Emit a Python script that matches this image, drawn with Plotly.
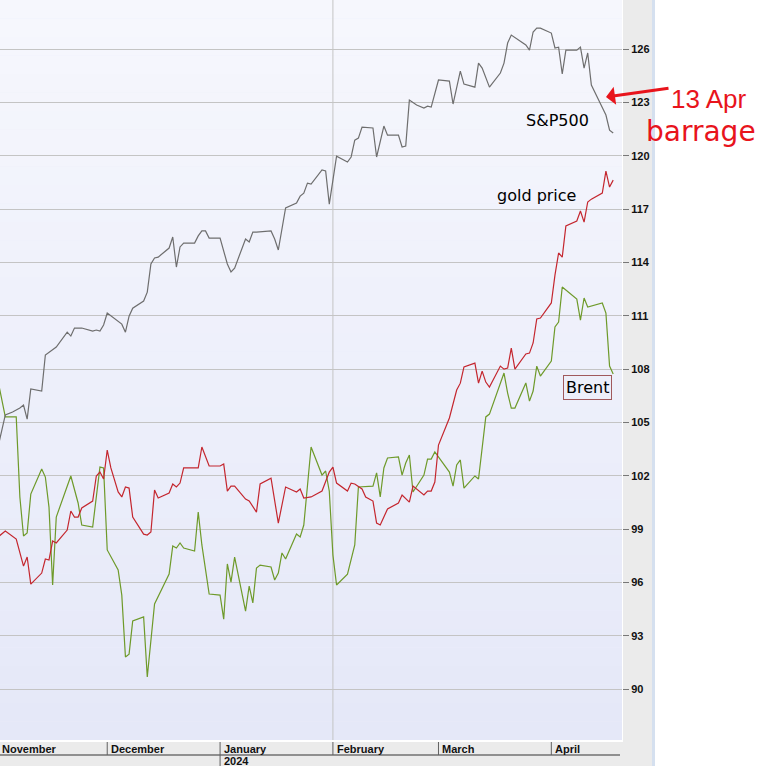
import plotly.graph_objects as go

# ---------------- data ----------------
sp_dates = """2023-11-01 2023-11-03 2023-11-05 2023-11-07 2023-11-08 2023-11-09 2023-11-10 2023-11-13 2023-11-14 2023-11-17
2023-11-20 2023-11-21 2023-11-22 2023-11-24 2023-11-27 2023-11-28 2023-11-29 2023-11-30 2023-12-01 2023-12-04
2023-12-05 2023-12-06 2023-12-07 2023-12-08 2023-12-11 2023-12-12 2023-12-13 2023-12-14 2023-12-15 2023-12-18
2023-12-19 2023-12-20 2023-12-21 2023-12-22 2023-12-25 2023-12-26 2023-12-27 2023-12-28 2023-12-29 2024-01-01
2024-01-02 2024-01-03 2024-01-04 2024-01-05 2024-01-08 2024-01-09 2024-01-10 2024-01-11 2024-01-15 2024-01-16
2024-01-17 2024-01-19 2024-01-22 2024-01-23 2024-01-24 2024-01-25 2024-01-26 2024-01-29 2024-01-30 2024-01-31
2024-02-02 2024-02-05 2024-02-06 2024-02-07 2024-02-08 2024-02-09 2024-02-12 2024-02-13 2024-02-15 2024-02-16
2024-02-19 2024-02-20 2024-02-21 2024-02-22 2024-02-24 2024-02-26 2024-02-27 2024-02-28 2024-03-01 2024-03-04
2024-03-05 2024-03-07 2024-03-08 2024-03-11 2024-03-12 2024-03-13 2024-03-15 2024-03-18 2024-03-19 2024-03-20
2024-03-21 2024-03-25 2024-03-26 2024-03-27 2024-03-28 2024-03-29 2024-04-01 2024-04-02 2024-04-03 2024-04-04
2024-04-05 2024-04-08 2024-04-09 2024-04-10 2024-04-11 2024-04-12 2024-04-14 2024-04-16 2024-04-17 2024-04-18""".split()
sp_values = [
    103.62, 105.42, 105.59, 105.81, 105.98, 105.19, 106.88, 106.77, 108.79, 109.24,
    110.08, 109.86, 110.31, 110.31, 110.14, 110.2, 110.14, 110.48, 111.15, 110.65,
    110.53, 110.08, 110.98, 111.43, 111.83, 112.33, 113.91, 114.25, 114.3, 114.81,
    115.43, 113.74, 114.87, 115.09, 115.09, 115.49, 115.77, 115.77, 115.37, 115.37,
    114.7, 113.91, 113.46, 113.68, 115.32, 115.15, 115.71, 115.71, 115.77, 115.32,
    114.7, 117.06, 117.34, 117.73, 117.9, 118.46, 118.41, 119.2, 119.14, 117.28,
    119.98, 119.65, 119.93, 120.88, 120.99, 121.61, 121.56, 119.93, 121.67, 121.16,
    121.16, 120.49, 120.55, 123.13, 122.85, 122.68, 122.79, 122.74, 124.26, 124.2,
    122.91, 124.76, 124.03, 123.86, 125.21, 124.93, 123.86, 124.65, 125.21, 126.34,
    126.79, 126.23, 125.94, 126.96, 127.18, 127.18, 126.9, 126.06, 126.11, 124.6,
    125.94, 125.94, 126.11, 124.93, 125.78, 123.98, 123.13, 122.29, 121.44, 121.28,
]

gold_dates = """2023-11-01 2023-11-03 2023-11-06 2023-11-08 2023-11-09 2023-11-10 2023-11-13 2023-11-14 2023-11-15 2023-11-16
2023-11-17 2023-11-20 2023-11-21 2023-11-22 2023-11-23 2023-11-24 2023-11-27 2023-11-28 2023-11-29 2023-11-30
2023-12-01 2023-12-02 2023-12-04 2023-12-05 2023-12-06 2023-12-07 2023-12-08 2023-12-11 2023-12-12 2023-12-13
2023-12-14 2023-12-15 2023-12-18 2023-12-19 2023-12-20 2023-12-21 2023-12-22 2023-12-26 2023-12-27 2023-12-28
2023-12-29 2024-01-01 2024-01-02 2024-01-03 2024-01-04 2024-01-05 2024-01-08 2024-01-09 2024-01-11 2024-01-12
2024-01-15 2024-01-17 2024-01-19 2024-01-22 2024-01-23 2024-01-24 2024-01-26 2024-01-29 2024-01-30 2024-01-31
2024-02-01 2024-02-02 2024-02-05 2024-02-06 2024-02-07 2024-02-09 2024-02-10 2024-02-12 2024-02-13 2024-02-14
2024-02-16 2024-02-19 2024-02-20 2024-02-22 2024-02-23 2024-02-26 2024-02-27 2024-02-28 2024-02-29 2024-03-01
2024-03-04 2024-03-06 2024-03-07 2024-03-08 2024-03-11 2024-03-12 2024-03-13 2024-03-14 2024-03-15 2024-03-18
2024-03-19 2024-03-20 2024-03-21 2024-03-22 2024-03-25 2024-03-26 2024-03-27 2024-03-28 2024-03-29 2024-04-01
2024-04-02 2024-04-03 2024-04-04 2024-04-05 2024-04-08 2024-04-09 2024-04-10 2024-04-11 2024-04-12 2024-04-15
2024-04-16 2024-04-17 2024-04-18""".split()
gold_values = [
    98.56, 98.89, 98.44, 96.92, 97.43, 95.91, 96.53, 97.32, 97.26, 98.33,
    98.22, 98.95, 100.02, 99.68, 99.68, 100.19, 100.58, 101.99, 102.21, 101.82,
    103.45, 102.44, 101.09, 100.81, 101.37, 101.31, 99.68, 98.72, 98.67, 98.84,
    101.2, 100.75, 101.03, 101.54, 101.37, 101.59, 102.44, 102.44, 103.62, 103.11,
    102.55, 102.55, 102.66, 101.14, 101.42, 101.42, 100.69, 100.58, 99.96, 101.54,
    101.87, 99.34, 101.37, 101.09, 101.26, 100.75, 100.81, 101.14, 101.65, 102.21,
    102.49, 101.59, 101.14, 101.59, 101.54, 101.26, 100.81, 100.58, 99.34, 99.23,
    100.13, 100.47, 100.92, 100.52, 101.42, 100.92, 101.14, 101.14, 101.65, 103.73,
    105.25, 106.82, 107.21, 108.12, 108.34, 107.21, 107.89, 107.27, 106.99, 108.17,
    108.0, 108.06, 109.18, 108.0, 108.85, 108.9, 109.47, 110.82, 110.87, 111.72,
    113.29, 114.53, 114.3, 116.05, 116.33, 116.89, 116.27, 117.4, 117.56, 117.9,
    119.14, 118.24, 118.63,
]

brent_dates = """2023-11-01 2023-11-03 2023-11-06 2023-11-07 2023-11-08 2023-11-09 2023-11-10 2023-11-13 2023-11-14 2023-11-15
2023-11-16 2023-11-17 2023-11-21 2023-11-23 2023-11-24 2023-11-27 2023-11-29 2023-11-30 2023-12-01 2023-12-04
2023-12-05 2023-12-06 2023-12-07 2023-12-08 2023-12-11 2023-12-12 2023-12-14 2023-12-18 2023-12-19 2023-12-20
2023-12-21 2023-12-22 2023-12-25 2023-12-26 2023-12-27 2023-12-29 2024-01-01 2024-01-02 2024-01-03 2024-01-04
2024-01-05 2024-01-08 2024-01-09 2024-01-10 2024-01-11 2024-01-12 2024-01-15 2024-01-16 2024-01-17 2024-01-18
2024-01-19 2024-01-22 2024-01-23 2024-01-24 2024-01-26 2024-01-29 2024-01-30 2024-01-31 2024-02-01 2024-02-02
2024-02-05 2024-02-07 2024-02-08 2024-02-12 2024-02-13 2024-02-14 2024-02-15 2024-02-16 2024-02-19 2024-02-20
2024-02-21 2024-02-22 2024-02-23 2024-02-26 2024-02-27 2024-02-28 2024-02-29 2024-03-04 2024-03-05 2024-03-06
2024-03-07 2024-03-08 2024-03-11 2024-03-12 2024-03-14 2024-03-15 2024-03-19 2024-03-20 2024-03-21 2024-03-22
2024-03-25 2024-03-26 2024-03-27 2024-03-28 2024-03-29 2024-04-01 2024-04-02 2024-04-03 2024-04-04 2024-04-08
2024-04-09 2024-04-10 2024-04-11 2024-04-15 2024-04-16 2024-04-17 2024-04-18""".split()
brent_values = [
    107.33, 105.31, 105.31, 100.81, 98.61, 98.78, 100.97, 102.38, 101.93, 100.24,
    95.86, 99.68, 101.99, 100.47, 99.23, 99.12, 102.49, 102.44, 97.83, 96.7,
    95.29, 91.81, 91.97, 93.83, 94.06, 90.68, 94.79, 96.47, 98.05, 97.94,
    98.22, 97.94, 97.77, 99.96, 98.11, 95.35, 95.29, 93.94, 97.04, 96.02,
    97.43, 94.39, 95.8, 94.85, 96.81, 96.98, 96.87, 96.14, 96.53, 97.66,
    97.32, 98.73, 98.56, 99.23, 103.62, 102.04, 102.27, 101.14, 97.54, 95.86,
    96.47, 98.11, 101.37, 101.42, 102.16, 100.81, 102.44, 103.0, 103.06, 102.04,
    102.72, 103.17, 101.09, 102.04, 102.94, 102.94, 103.34, 102.21, 101.42, 102.61,
    102.89, 101.31, 101.99, 101.82, 105.31, 105.47, 107.78, 106.65, 105.81, 105.81,
    107.22, 106.2, 106.77, 108.17, 107.61, 108.45, 110.37, 110.65, 112.62, 111.94,
    110.76, 112.0, 111.49, 111.72, 111.15, 108.17, 107.72,
]

month_starts = ["2023-11-01", "2023-12-01", "2024-01-01", "2024-02-01", "2024-03-01", "2024-04-01"]
month_labels = ["November", "December", "January", "February", "March", "April"]
year_start = "2024-01-01"
year_label = "2024"
series_labels = ["S&P500", "gold price", "Brent"]
note_lines = ["13 Apr", "barrage"]

# ---------------- figure ----------------
fig = go.Figure()
fig.add_trace(go.Scatter(x=brent_dates, y=brent_values, mode="lines",
                         line=dict(color="#6e9a2a", width=1.2), name="Brent"))
fig.add_trace(go.Scatter(x=gold_dates, y=gold_values, mode="lines",
                         line=dict(color="#c4262e", width=1.2), name="gold price"))
fig.add_trace(go.Scatter(x=sp_dates, y=sp_values, mode="lines",
                         line=dict(color="#6e6e6e", width=1.2), name="S&P500"))

PW, PH = 622.0, 740.0  # plot area in px
shapes = []
# gradient background (plot area)
top = (246, 247, 253)
bot = (229, 232, 248)
n = 40
for i in range(n):
    t = i / (n - 1)
    c = tuple(round(top[k] + (bot[k] - top[k]) * t) for k in range(3))
    shapes.append(dict(type="rect", xref="paper", yref="paper", layer="below",
                       x0=0, x1=1, y0=1 - (i + 1) / n, y1=1 - i / n,
                       fillcolor="rgb(%d,%d,%d)" % c, line=dict(width=0)))
# right axis band
shapes.append(dict(type="rect", xref="paper", yref="paper", layer="below",
                   x0=623 / PW, x1=652 / PW, y0=-26 / PH, y1=1,
                   fillcolor="#ebebeb", line=dict(width=0)))
# bottom axis band
shapes.append(dict(type="rect", xref="paper", yref="paper", layer="below",
                   x0=0, x1=652 / PW, y0=-26 / PH, y1=-2 / PH,
                   fillcolor="#ebebeb", line=dict(width=0)))
# light blue edge
shapes.append(dict(type="rect", xref="paper", yref="paper", layer="below",
                   x0=652 / PW, x1=655 / PW, y0=-26 / PH, y1=1,
                   fillcolor="#d5e0ef", line=dict(width=0)))
# vertical grid line at February
shapes.append(dict(type="line", xref="x", yref="paper", layer="below",
                   x0=month_starts[3], x1=month_starts[3], y0=0, y1=1,
                   line=dict(color="#c4c4c4", width=1)))
# horizontal line under month row
shapes.append(dict(type="line", xref="paper", yref="paper",
                   x0=0, x1=620 / PW, y0=-15 / PH, y1=-15 / PH,
                   line=dict(color="#707070", width=1.5)))
# month separators
for m in month_starts[1:]:
    shapes.append(dict(type="line", xref="x", yref="paper",
                       x0=m, x1=m, y0=-2 / PH, y1=-15 / PH,
                       line=dict(color="#606060", width=1)))
shapes.append(dict(type="line", xref="x", yref="paper",
                   x0=year_start, x1=year_start, y0=-15 / PH, y1=-26 / PH,
                   line=dict(color="#606060", width=1)))

annotations = []
axis_font = dict(family="Liberation Sans", size=11, color="#111111", weight="bold")
for i, (m, lab) in enumerate(zip(month_starts, month_labels)):
    if i == 0:  # first month starts at the left edge of the plot
        annotations.append(dict(x=0, xref="paper", y=-8.5 / PH, yref="paper", text=lab,
                                showarrow=False, xanchor="left", yanchor="middle",
                                font=axis_font))
    else:
        annotations.append(dict(x=m, xref="x", y=-8.5 / PH, yref="paper", text=lab,
                                showarrow=False, xanchor="left", yanchor="middle",
                                xshift=2, font=axis_font))
annotations.append(dict(x=year_start, xref="x", y=-21 / PH, yref="paper", text=year_label,
                        showarrow=False, xanchor="left", yanchor="middle",
                        xshift=2, font=axis_font))

lab_font = dict(family="DejaVu Sans", size=16, color="#000000")
annotations.append(dict(x=591 / PW, y=1 - 120 / PH, xref="paper", yref="paper",
                        text=series_labels[0], showarrow=False, xanchor="right",
                        yanchor="middle", font=lab_font))
annotations.append(dict(x=578 / PW, y=1 - 196 / PH, xref="paper", yref="paper",
                        text=series_labels[1], showarrow=False, xanchor="right",
                        yanchor="middle", font=lab_font))
annotations.append(dict(x=612 / PW, y=1 - 387 / PH, xref="paper", yref="paper",
                        text=series_labels[2], showarrow=False, xanchor="right",
                        yanchor="middle", font=lab_font, bordercolor="#a0595c",
                        borderwidth=1, borderpad=2))

# red handwritten note
red = "#e8141c"
annotations.append(dict(x=606 / PW, y=1 - 97 / PH, xref="paper", yref="paper",
                        text="", showarrow=True, ax=64, ay=-9, arrowhead=1,
                        arrowsize=1, arrowwidth=3, arrowcolor=red))
annotations.append(dict(x=709 / PW, y=1 - 99 / PH, xref="paper", yref="paper",
                        text=note_lines[0], showarrow=False, xanchor="center",
                        yanchor="middle",
                        font=dict(family="Liberation Sans", size=26, color=red)))
annotations.append(dict(x=701 / PW, y=1 - 132 / PH, xref="paper", yref="paper",
                        text=note_lines[1], showarrow=False, xanchor="center",
                        yanchor="middle",
                        font=dict(family="DejaVu Sans", size=28, color=red)))

fig.update_layout(
    width=762, height=766,
    margin=dict(l=0, r=140, t=0, b=26),
    paper_bgcolor="white", plot_bgcolor="#eceefa",
    showlegend=False,
    xaxis=dict(type="date", range=["2023-11-01 13:00", "2024-04-20 10:00"],
               showgrid=False, showticklabels=False, ticks="", zeroline=False,
               showline=False, fixedrange=True),
    yaxis=dict(side="right", range=[87.14, 128.76], tick0=90, dtick=3,
               showgrid=True, gridcolor="#c4c4c4", gridwidth=1,
               ticks="outside", ticklen=6, tickcolor="#777777", tickwidth=1,
               tickfont=axis_font, zeroline=False, showline=False,
               automargin=False, fixedrange=True),
    shapes=shapes, annotations=annotations,
)

fig.write_html("out.html", config={"displayModeBar": False},
               post_script="document.body.style.margin='0';document.body.style.overflow='hidden';")
